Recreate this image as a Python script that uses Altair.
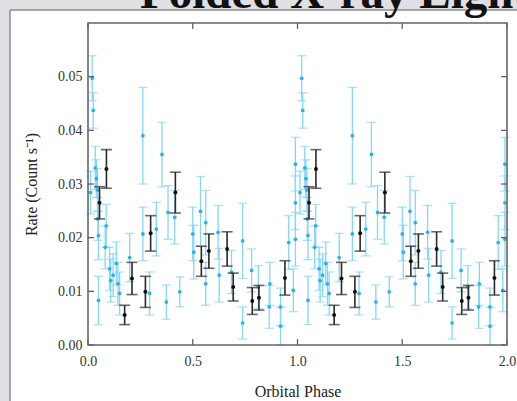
import altair as alt
import pandas as pd

# ---- data (phase 0-1; the light curve is shown folded over two cycles) ----
blue_phase = [0.012, 0.020, 0.025, 0.035, 0.040, 0.045, 0.047, 0.050, 0.050, 0.082,
              0.087, 0.103, 0.108, 0.120, 0.135, 0.143, 0.151, 0.199, 0.262, 0.262,
              0.294, 0.326, 0.353, 0.374, 0.382, 0.414, 0.438, 0.500, 0.505, 0.537,
              0.562, 0.562, 0.621, 0.626, 0.685, 0.738, 0.738, 0.781, 0.813, 0.865,
              0.868, 0.919, 0.919, 0.958, 0.980, 0.990, 0.990, 0.990]
blue_rate = [0.0284, 0.0497, 0.0437, 0.0330, 0.0310, 0.0289, 0.0235, 0.0204, 0.0083, 0.0182,
             0.0222, 0.0142, 0.0120, 0.0130, 0.0152, 0.0114, 0.0096, 0.0163, 0.0390, 0.0207,
             0.0096, 0.0216, 0.0355, 0.0080, 0.0247, 0.0238, 0.0099, 0.0207, 0.0173, 0.0249,
             0.0228, 0.0114, 0.0210, 0.0130, 0.0136, 0.0194, 0.0041, 0.0139, 0.0108, 0.0071,
             0.0114, 0.0071, 0.0035, 0.0191, 0.0102, 0.0337, 0.0265, 0.0197]
blue_err = [0.0040, 0.0042, 0.0033, 0.0040, 0.0035, 0.0040, 0.0040, 0.0045, 0.0045, 0.0040,
            0.0040, 0.0040, 0.0040, 0.0040, 0.0040, 0.0040, 0.0040, 0.0045, 0.0090, 0.0050,
            0.0040, 0.0050, 0.0060, 0.0032, 0.0050, 0.0050, 0.0028, 0.0050, 0.0050, 0.0065,
            0.0060, 0.0040, 0.0050, 0.0050, 0.0040, 0.0070, 0.0030, 0.0040, 0.0040, 0.0040,
            0.0040, 0.0035, 0.0035, 0.0050, 0.0040, 0.0050, 0.0050, 0.0050]

black_phase = [0.055, 0.088, 0.175, 0.210, 0.274, 0.299, 0.417, 0.541, 0.577, 0.664,
               0.693, 0.784, 0.816, 0.940]
black_rate = [0.0265, 0.0328, 0.0056, 0.0124, 0.0099, 0.0208, 0.0284, 0.0156, 0.0175, 0.0179,
              0.0108, 0.0082, 0.0088, 0.0125]
black_err = [0.0030, 0.0036, 0.0018, 0.0030, 0.0029, 0.0033, 0.0038, 0.0028, 0.0032, 0.0032,
             0.0026, 0.0025, 0.0023, 0.0032]

x_ticks = [0.0, 0.5, 1.0, 1.5, 2.0]
y_ticks = [0.00, 0.01, 0.02, 0.03, 0.04, 0.05]
cycles = [0, 1]


def folded(ph, rt, er):
    rows = []
    for c in cycles:
        for p, r, e in zip(ph, rt, er):
            rows.append({"phase": p + c, "rate": r, "lo": r - e, "hi": r + e})
    return pd.DataFrame(rows)


blue = folded(blue_phase, blue_rate, blue_err)
black = folded(black_phase, black_rate, black_err)

W, H = 419, 322
xs = alt.Scale(domain=[0, 2], nice=False)
ys = alt.Scale(domain=[0, 0.06], nice=False)
SERIF = "Liberation Serif"

X = alt.X("phase:Q", scale=xs,
          axis=alt.Axis(values=x_ticks, format=".1f", title="Orbital Phase", grid=False,
                        ticks=False, domain=False, labelFlush=False, labelFont=SERIF,
                        labelFontSize=14, labelColor="#333", labelPadding=9,
                        titleFont=SERIF, titleFontSize=16, titleFontWeight="normal",
                        titleColor="#222", titlePadding=15, zindex=1))
Y = alt.Y("lo:Q", scale=ys,
          axis=alt.Axis(values=y_ticks, format=".2f", title="Rate (Count s⁻¹)", grid=False,
                        ticks=False, domain=False, labelFlush=False, labelFont=SERIF,
                        labelFontSize=14, labelColor="#333", labelPadding=6,
                        titleFont=SERIF, titleFontSize=16, titleFontWeight="normal",
                        titleColor="#222", titlePadding=18, zindex=1))

one = pd.DataFrame({"a": [0]})
GRAY = "#dfdfe4"
BORDER = "#8c8c8c"
strip_left = alt.Chart(one).mark_rect(fill=GRAY).encode(
    x=alt.value(-88), x2=alt.value(-78), y=alt.value(-23), y2=alt.value(H + 60))
strip_top = alt.Chart(one).mark_rect(fill=GRAY).encode(
    x=alt.value(-88), x2=alt.value(W + 20), y=alt.value(-23), y2=alt.value(-13))
line_left = alt.Chart(one).mark_rule(color=BORDER, strokeWidth=1.5).encode(
    x=alt.value(-78), y=alt.value(-13), y2=alt.value(H + 60))
line_top = alt.Chart(one).mark_rule(color=BORDER, strokeWidth=1.5).encode(
    x=alt.value(-78), x2=alt.value(W + 20), y=alt.value(-13))

title = alt.Chart(one).mark_text(
    text="Folded X-ray Light Curve", font=SERIF, fontSize=47, fontWeight="bold",
    align="left", baseline="alphabetic", color="#111"
).encode(x=alt.value(52), y=alt.value(-15))

BL = "#86d6f7"
base_b = alt.Chart(blue)
b_bar = base_b.mark_rule(color=BL, strokeWidth=1.3).encode(x=X, y=Y, y2="hi:Q")
b_lo = base_b.mark_tick(color=BL, orient="horizontal", size=9, thickness=1.3).encode(
    x="phase:Q", y=alt.Y("lo:Q", scale=ys))
b_hi = base_b.mark_tick(color=BL, orient="horizontal", size=9, thickness=1.3).encode(
    x="phase:Q", y=alt.Y("hi:Q", scale=ys))
b_pt = base_b.mark_circle(color="#2ab0ee", size=14, opacity=1).encode(
    x="phase:Q", y=alt.Y("rate:Q", scale=ys))

base_k = alt.Chart(black)
k_bar = base_k.mark_rule(color="#2a2a2a", strokeWidth=1.6).encode(
    x="phase:Q", y=alt.Y("lo:Q", scale=ys), y2="hi:Q")
k_lo = base_k.mark_tick(color="#2a2a2a", orient="horizontal", size=11, thickness=1.6).encode(
    x="phase:Q", y=alt.Y("lo:Q", scale=ys))
k_hi = base_k.mark_tick(color="#2a2a2a", orient="horizontal", size=11, thickness=1.6).encode(
    x="phase:Q", y=alt.Y("hi:Q", scale=ys))
k_pt = base_k.mark_circle(color="#111111", size=16, opacity=1).encode(
    x="phase:Q", y=alt.Y("rate:Q", scale=ys))

xt = pd.DataFrame({"t": x_ticks})
yt = pd.DataFrame({"t": y_ticks})
tick_col = "#555"
xt_bot = alt.Chart(xt).mark_rule(color=tick_col, strokeWidth=1.2).encode(
    x=alt.X("t:Q", scale=xs), y=alt.value(H), y2=alt.value(H - 6))
xt_top = alt.Chart(xt).mark_rule(color=tick_col, strokeWidth=1.2).encode(
    x=alt.X("t:Q", scale=xs), y=alt.value(0), y2=alt.value(6))
yt_l = alt.Chart(yt).mark_rule(color=tick_col, strokeWidth=1.2).encode(
    y=alt.Y("t:Q", scale=ys), x=alt.value(0), x2=alt.value(6))
yt_r = alt.Chart(yt).mark_rule(color=tick_col, strokeWidth=1.2).encode(
    y=alt.Y("t:Q", scale=ys), x=alt.value(W), x2=alt.value(W - 6))

frame = alt.Chart(one).mark_rect(fill=None, stroke="#666", strokeWidth=1.6).encode(
    x=alt.value(0), x2=alt.value(W), y=alt.value(0), y2=alt.value(H))

chart = alt.layer(
    b_bar, strip_left, strip_top, line_left, line_top, title,
    b_lo, b_hi, b_pt, k_bar, k_lo, k_hi, k_pt,
    xt_bot, xt_top, yt_l, yt_r, frame
).properties(
    width=W, height=H,
    autosize=alt.AutoSizeParams(type="none"),
    padding={"left": 88, "top": 23, "right": 10, "bottom": 56},
    background="white",
).configure_view(
    strokeWidth=0
)

chart.save("out.html", embed_options={"renderer": "svg", "actions": False})
